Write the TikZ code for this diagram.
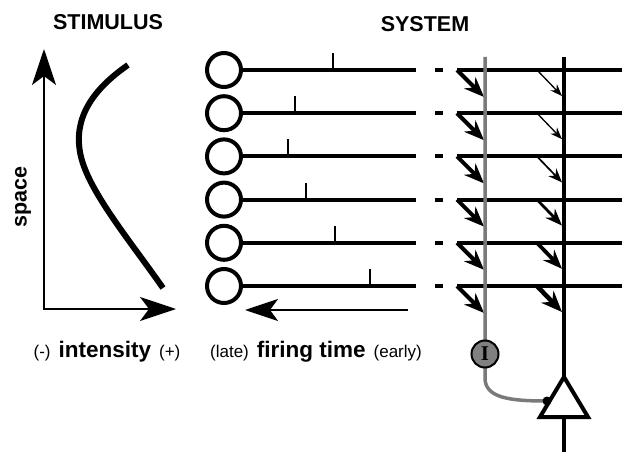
\documentclass[tikz,border=0pt]{standalone}
\usepackage{fontspec}
\setmainfont{Liberation Sans}
\newfontfamily\serifI{Liberation Serif}
\usetikzlibrary{arrows.meta}
\definecolor{synGray}{HTML}{7A7A7A}
\definecolor{inhGray}{HTML}{808080}
\begin{document}
\begin{tikzpicture}[x=1pt,y=-1pt,
  bigtxt/.style={font=\fontsize{21.5}{25}\selectfont\bfseries},
  cell/.style={circle,draw,line width=4pt,minimum size=34pt,inner sep=0pt},
  fiber/.style={line width=4pt},
  spike/.style={line width=2pt},
  axis/.style={line width=2pt},
  synapse/.style={line width=4pt,-{Stealth[length=20pt,width=16pt]}},
  gline/.style={draw=synGray,line width=3.5pt},
  bline/.style={line width=4pt},
]
\useasboundingbox (0,0) rectangle (627,452);

% titles
\node[bigtxt,anchor=base] (tstim) at (108,30) {STIMULUS};
\node[bigtxt,anchor=base] (tsys) at (425,32) {SYSTEM};

% stimulus axes
\coordinate (ytop) at (44,49);
\coordinate (orig) at (44,309);
\coordinate (xend) at (176,309);
\draw[axis,{Stealth[length=36pt,width=24pt,inset=9pt]}-{Stealth[length=36pt,width=24pt,inset=9pt]}]
  (ytop) -- (orig) -- (xend);
\node[bigtxt,rotate=90] (tspace) at (23,197) {space};
\draw[line width=6pt] (128,65) .. controls (92,90) and (74,118) .. (80,152) .. controls (86,188) and (128,238) .. (163,288);

% cells and fibres
\foreach \i/\tx/\lw/\hl/\hw in {1/333/1.3/12/9,2/295/1.3/12/9,3/288/1.7/14/11,4/306/2.8/17/13,5/335/3.8/19/15,6/370/4.6/21/17} {
  \pgfmathsetmacro\yy{70+43.2*(\i-1)}
  \node[cell] (c\i) at (224,\yy) {};
  \coordinate (a\i) at (416,\yy);
  \coordinate (d\i) at (435,\yy);
  \coordinate (e\i) at (443,\yy);
  \coordinate (s\i) at (457,\yy);
  \coordinate (r\i) at (622,\yy);
  \coordinate (t\i) at (\tx,\yy);
  \coordinate (g\i) at (484,\yy+27);
  \coordinate (b\i) at (537,\yy);
  \coordinate (k\i) at (562,\yy+26);
  \draw[fiber] (c\i.east) -- (a\i);
  \draw[fiber] (d\i) -- (e\i);
  \draw[fiber] (s\i) -- (r\i);
  \draw[spike] (t\i) -- ++(0,-17);
  \draw[synapse] (s\i) -- (g\i);
  \draw[line width=\lw pt,-{Stealth[length=\hl pt,width=\hw pt]}] (b\i) -- (k\i);
}

% time arrow
\coordinate (tstart) at (408,310);
\coordinate (tend) at (245,310);
\draw[axis,-{Stealth[length=33pt,width=22pt,inset=8pt]}] (tstart) -- (tend);

% bottom labels
\node[anchor=base] (lint) at (107,357) {{\fontsize{17}{20}\selectfont (-)}\hspace{8pt}{\fontsize{22.5}{26}\selectfont\bfseries intensity}\hspace{8pt}{\fontsize{17}{20}\selectfont (+)}};
\node[anchor=base] (lfire) at (316,357) {{\fontsize{17}{20}\selectfont (late)}\hspace{8pt}{\fontsize{22.5}{26}\selectfont\bfseries firing time}\hspace{8pt}{\fontsize{17}{20}\selectfont (early)}};

% output neuron
\coordinate (apex) at (564,377);
\coordinate (bl) at (540,417);
\coordinate (br) at (588,417);
\coordinate (btop) at (564,57);
\coordinate (bbot) at (564,452);
\coordinate (gtop) at (485,57);
\coordinate (gbend) at (485,378);
\coordinate (syn) at (547,401);
\draw[bline] (btop) -- (apex);
\draw[bline] (564,419) -- (bbot);
\draw[gline] (gtop) -- (gbend) .. controls (485,398) and (510,401) .. (syn);
\draw[line width=4pt,fill=white,line join=miter] (bl) -- (apex) -- (br) -- cycle;
\fill (syn) circle (4.5pt);
\node[circle,draw,fill=inhGray,line width=2pt,minimum size=27pt,inner sep=0pt,
      font=\serifI\fontsize{21}{21}\selectfont\bfseries] (inh) at (485,354) {I};
\end{tikzpicture}
\end{document}
